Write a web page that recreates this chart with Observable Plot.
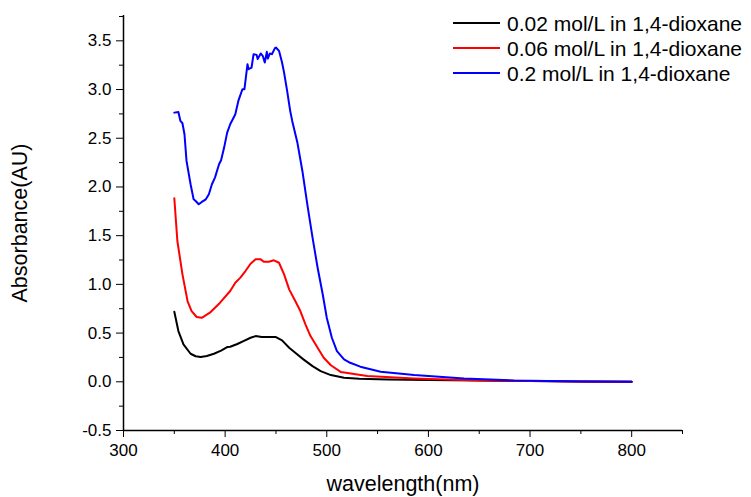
<!DOCTYPE html>
<html>
<head>
<meta charset="utf-8">
<script src="https://cdn.jsdelivr.net/npm/d3@7"></script>
<script src="https://cdn.jsdelivr.net/npm/@observablehq/plot@0.6"></script>
<style>
  body { margin: 0; background: #fff; }
  #wrap { position: relative; width: 751px; height: 497px; font-family: "Liberation Sans", Arial, sans-serif; }
  #legend { position: absolute; left: 453px; top: 11px; font-size: 21px; color: #000; }
  #legend .row { display: flex; align-items: center; height: 25px; white-space: nowrap; }
  #legend .sw { display: block; width: 47px; height: 2px; margin-right: 7px; margin-top: -2px; }
</style>
</head>
<body>
<div id="wrap"></div>
<script>
const seriesNames = ["0.02 mol/L in 1,4-dioxane", "0.06 mol/L in 1,4-dioxane", "0.2 mol/L in 1,4-dioxane"];
const seriesColors = ["#000000", "#ff0000", "#0000ff"];

const wlBlack = [350, 354, 359, 366, 371, 376, 382, 389, 396, 402, 405, 412, 418, 425, 430, 436, 443, 450, 456, 463, 469, 477, 486, 494, 504, 517, 532, 560, 600, 650, 700, 750, 800];
const absBlack = [0.719, 0.521, 0.384, 0.288, 0.262, 0.254, 0.265, 0.288, 0.32, 0.356, 0.36, 0.388, 0.418, 0.452, 0.469, 0.459, 0.459, 0.459, 0.425, 0.349, 0.298, 0.23, 0.161, 0.11, 0.069, 0.041, 0.031, 0.024, 0.018, 0.012, 0.007, 0.003, 0.0];

const wlRed = [350, 353, 358, 363, 367, 372, 377, 385, 395, 405, 410, 415, 420, 425, 430, 435, 438, 443, 448, 453, 458, 463, 469, 474, 479, 484, 491, 497, 504, 514, 530, 540, 586, 650, 700, 750, 800];
const absRed = [1.884, 1.445, 1.103, 0.829, 0.726, 0.665, 0.657, 0.709, 0.812, 0.932, 1.017, 1.069, 1.137, 1.212, 1.257, 1.257, 1.233, 1.233, 1.247, 1.222, 1.103, 0.949, 0.829, 0.726, 0.59, 0.469, 0.349, 0.247, 0.17, 0.1, 0.075, 0.059, 0.035, 0.014, 0.007, 0.003, 0.0];

const wlBlue = [350, 354, 356, 358, 360, 362, 366, 369, 371, 374, 377, 381, 384, 387, 390, 394, 396, 399, 402, 405, 410, 413, 417, 419, 422, 423, 426, 428, 431, 432, 435, 437, 439, 441, 442, 444, 446, 449, 450, 453, 456, 458, 461, 464, 466, 471, 476, 481, 486, 491, 496, 500, 505, 510, 517, 523, 533, 553, 586, 635, 684, 750, 800];
const absBlue = [2.763, 2.77, 2.678, 2.654, 2.541, 2.267, 2.028, 1.873, 1.856, 1.822, 1.846, 1.873, 1.925, 2.028, 2.096, 2.233, 2.274, 2.404, 2.558, 2.644, 2.747, 2.883, 3.003, 3.003, 3.26, 3.209, 3.226, 3.363, 3.356, 3.312, 3.37, 3.346, 3.277, 3.387, 3.318, 3.37, 3.363, 3.425, 3.431, 3.397, 3.277, 3.174, 2.986, 2.781, 2.678, 2.46, 2.164, 1.81, 1.479, 1.171, 0.898, 0.657, 0.452, 0.315, 0.23, 0.195, 0.155, 0.103, 0.069, 0.035, 0.014, 0.004, 0.0];

const xMajor = [300, 400, 500, 600, 700, 800];
const xMinor = [350, 450, 550, 650, 750, 850];
const yMajor = [-0.5, 0.0, 0.5, 1.0, 1.5, 2.0, 2.5, 3.0, 3.5];
const yMinor = [-0.25, 0.25, 0.75, 1.25, 1.75, 2.25, 2.75, 3.25, 3.75];

const wls = [wlBlack, wlRed, wlBlue];
const absv = [absBlack, absRed, absBlue];
const data = [];
seriesNames.forEach((name, i) => {
  wls[i].forEach((w, j) => data.push({series: name, wl: w, a: absv[i][j]}));
});

const chart = Plot.plot({
  width: 751,
  height: 497,
  marginLeft: 123,
  marginRight: 69,
  marginTop: 15,
  marginBottom: 67,
  style: {fontFamily: "Liberation Sans, Arial, sans-serif", fontSize: "17px", color: "#000", background: "#fff"},
  x: {domain: [300, 850]},
  y: {domain: [-0.5, 3.76]},
  color: {domain: seriesNames, range: seriesColors},
  marks: [
    Plot.axisX({ticks: xMinor, tickSize: 4, tickWidth: 1.3, text: null, label: null}),
    Plot.axisX({ticks: xMajor, tickSize: 7, tickWidth: 1.3, tickPadding: 6, tickFormat: d => String(d), fontSize: 17,
      label: "wavelength(nm)", labelAnchor: "center", labelOffset: 60, labelArrow: "none"}),
    Plot.axisY({ticks: yMinor, tickSize: 4, tickWidth: 1.3, text: null, label: null}),
    Plot.axisY({ticks: yMajor, tickSize: 7, tickWidth: 1.3, tickPadding: 5, tickFormat: d => d.toFixed(1), fontSize: 17,
      label: "Absorbance(AU)", labelAnchor: "center", labelOffset: 112, labelArrow: "none"}),
    Plot.ruleX([300], {stroke: "#000", strokeWidth: 1.5}),
    Plot.ruleY([-0.5], {stroke: "#000", strokeWidth: 1.5}),
    Plot.line(data, {x: "wl", y: "a", z: "series", stroke: "series", strokeWidth: 2, curve: "linear"})
  ]
});

const wrap = document.getElementById("wrap");
wrap.appendChild(chart);
d3.select(chart).selectAll("g[aria-label='x-axis label'] text, g[aria-label='y-axis label'] text").style("font-size", "21.5px");

const legend = document.createElement("div");
legend.id = "legend";
seriesNames.forEach((name, i) => {
  const row = document.createElement("div");
  row.className = "row";
  const sw = document.createElement("span");
  sw.className = "sw";
  sw.style.background = seriesColors[i];
  const tx = document.createElement("span");
  tx.textContent = name;
  row.appendChild(sw);
  row.appendChild(tx);
  legend.appendChild(row);
});
wrap.appendChild(legend);
</script>
</body>
</html>
